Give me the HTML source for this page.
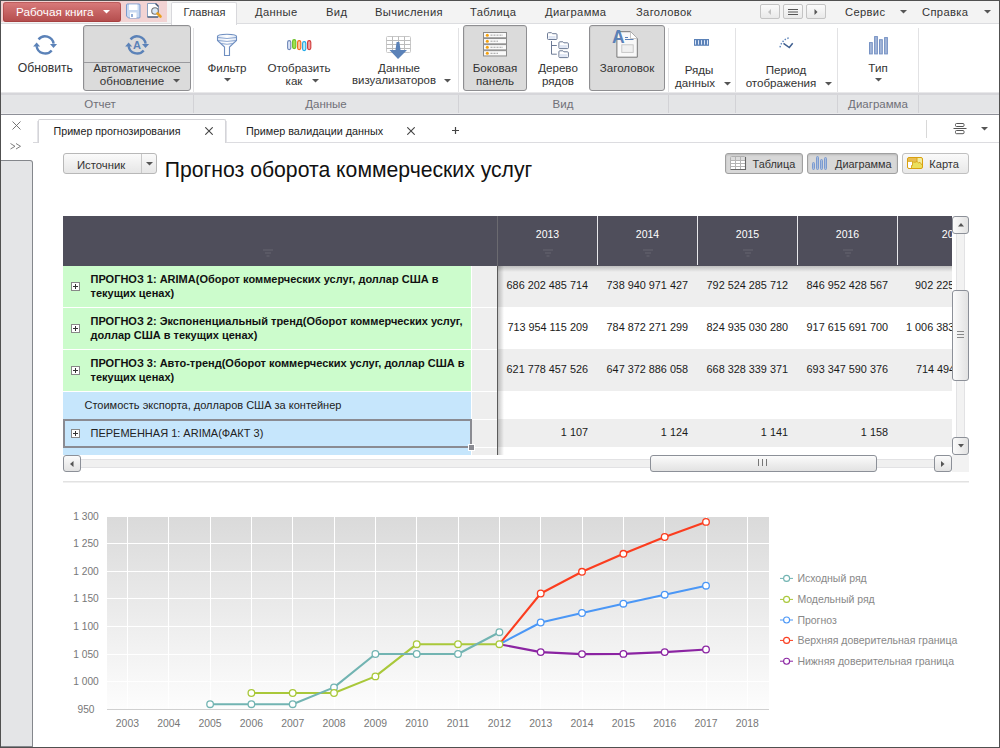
<!DOCTYPE html>
<html><head><meta charset="utf-8"><style>
*{margin:0;padding:0}
html,body{width:1000px;height:748px;overflow:hidden;background:#fff;font-family:"Liberation Sans", sans-serif;}
body{position:relative}
.t{position:absolute;white-space:nowrap;line-height:1;}
svg text{font-family:"Liberation Sans", sans-serif;}
</style></head><body>
<div style="position:absolute;left:1px;top:1px;width:998px;height:22px;background:#f3f3f3;"></div>
<div style="position:absolute;left:1px;top:23px;width:998px;height:1px;background:#dcdde0;"></div>
<div style="position:absolute;left:1px;top:1px;width:166px;height:21px;background:#f2d3d3;"></div>
<div style="position:absolute;left:3px;top:2px;width:118px;height:20px;background:linear-gradient(#d97b7b,#b34c4c);border-radius:3px;box-shadow:inset 0 0 0 1px rgba(140,40,40,.35);"></div>
<div class="t" style="top:6.10px;font-size:11.7px;color:#fff;left:16px;">Рабочая книга</div>
<svg style="position:absolute;left:102.5px;top:10px" width="7" height="4"><path d="M0 0H7L3.5 3.5Z" fill="#fff"/></svg>
<svg style="position:absolute;left:125px;top:3px" width="17" height="16" viewBox="0 0 17 16">
<path d="M1.5 2Q1.5 1 2.5 1H14Q15 1 15 2V14Q15 15 14 15H3.5L1.5 13Z" fill="#c9d9f1" stroke="#7b9bcf" stroke-width="1"/>
<rect x="4" y="1.5" width="8.5" height="5.5" fill="#fff"/>
<rect x="5" y="9.5" width="6.5" height="5.5" fill="#fff"/>
<rect x="6.2" y="11" width="1.6" height="3" fill="#7b9bcf"/></svg><svg style="position:absolute;left:146px;top:2px" width="17" height="18" viewBox="0 0 17 18">
<path d="M1.5 1.5H9.5L12.5 4.5V15H1.5Z" fill="#fff" stroke="#8aa0c0" stroke-width="1"/>
<path d="M1.5 15H12" stroke="#3a5070" stroke-width="1.2"/>
<path d="M9.5 1.5L12.5 4.5" stroke="#3a5070" stroke-width="1.4"/>
<circle cx="9" cy="9" r="3.3" fill="#d9e8f8" stroke="#777" stroke-width="1.1"/>
<path d="M11.5 11.5L14.5 14.5" stroke="#e8a020" stroke-width="2.6" stroke-linecap="round"/></svg><div style="position:absolute;left:171px;top:2px;width:66px;height:22px;background:#fff;border:1px solid #d8d8dc;border-bottom:none;border-radius:2px 2px 0 0;box-sizing:border-box;height:23px;"></div>
<div class="t" style="top:6.69px;font-size:11px;color:#333;left:183.5px;">Главная</div>
<div class="t" style="top:6.92px;font-size:11.2px;color:#333;left:255px;letter-spacing:0.35px;">Данные</div>
<div class="t" style="top:6.92px;font-size:11.2px;color:#333;left:326px;letter-spacing:0.35px;">Вид</div>
<div class="t" style="top:6.92px;font-size:11.2px;color:#333;left:375px;letter-spacing:0.35px;">Вычисления</div>
<div class="t" style="top:6.92px;font-size:11.2px;color:#333;left:470px;letter-spacing:0.35px;">Таблица</div>
<div class="t" style="top:6.92px;font-size:11.2px;color:#333;left:545px;letter-spacing:0.35px;">Диаграмма</div>
<div class="t" style="top:6.92px;font-size:11.2px;color:#333;left:636px;letter-spacing:0.35px;">Заголовок</div>
<div class="t" style="top:6.92px;font-size:11.2px;color:#333;left:845px;letter-spacing:0.35px;">Сервис</div>
<div class="t" style="top:6.92px;font-size:11.2px;color:#333;left:922px;letter-spacing:0.35px;">Справка</div>
<div style="position:absolute;left:760px;top:4px;width:20px;height:15px;box-sizing:border-box;border:1px solid #c4c4c4;border-radius:2px;background:linear-gradient(#fbfbfb,#e9e9e9);"></div>
<div style="position:absolute;left:783px;top:4px;width:20px;height:15px;box-sizing:border-box;border:1px solid #c4c4c4;border-radius:2px;background:linear-gradient(#fbfbfb,#e9e9e9);"></div>
<div style="position:absolute;left:806px;top:4px;width:20px;height:15px;box-sizing:border-box;border:1px solid #c4c4c4;border-radius:2px;background:linear-gradient(#fbfbfb,#e9e9e9);"></div>
<svg style="position:absolute;left:766px;top:8px" width="8" height="8"><path d="M5 1V7L2 4Z" fill="#c0c0c0"/></svg>
<svg style="position:absolute;left:788px;top:8px" width="10" height="8"><path d="M0 1.5H10M0 4H10M0 6.5H10" stroke="#555" stroke-width="1"/></svg>
<svg style="position:absolute;left:812px;top:8px" width="8" height="8"><path d="M2.5 1V7L5.5 4Z" fill="#555"/></svg>
<svg style="position:absolute;left:899.5px;top:10px" width="7" height="4"><path d="M0 0H7L3.5 3.5Z" fill="#555"/></svg>
<svg style="position:absolute;left:983.5px;top:10px" width="7" height="4"><path d="M0 0H7L3.5 3.5Z" fill="#555"/></svg>
<div style="position:absolute;left:1px;top:92px;width:998px;height:22px;background:linear-gradient(#e8e8ea 0,#e8e8ea 1px,#d6d6da 1px,#d6d6da 3px,#e4e5e7 3px,#e4e5e7 21px,#ececee 21px);"></div>
<div style="position:absolute;left:1px;top:114px;width:998px;height:1px;background:#8e9098;"></div>
<div style="position:absolute;left:193px;top:28px;width:1px;height:64px;background:#e2e2e4;"></div>
<div style="position:absolute;left:193px;top:95px;width:1px;height:18px;background:#d2d2d6;"></div>
<div style="position:absolute;left:458px;top:28px;width:1px;height:64px;background:#e2e2e4;"></div>
<div style="position:absolute;left:458px;top:95px;width:1px;height:18px;background:#d2d2d6;"></div>
<div style="position:absolute;left:668px;top:28px;width:1px;height:64px;background:#e2e2e4;"></div>
<div style="position:absolute;left:668px;top:95px;width:1px;height:18px;background:#d2d2d6;"></div>
<div style="position:absolute;left:735px;top:28px;width:1px;height:64px;background:#e2e2e4;"></div>
<div style="position:absolute;left:735px;top:95px;width:1px;height:18px;background:#d2d2d6;"></div>
<div style="position:absolute;left:837px;top:28px;width:1px;height:64px;background:#e2e2e4;"></div>
<div style="position:absolute;left:837px;top:95px;width:1px;height:18px;background:#d2d2d6;"></div>
<div style="position:absolute;left:918px;top:28px;width:1px;height:64px;background:#e2e2e4;"></div>
<div style="position:absolute;left:918px;top:95px;width:1px;height:18px;background:#d2d2d6;"></div>
<div style="position:absolute;left:83px;top:25px;width:108px;height:66px;box-sizing:border-box;border:1px solid #8f8f92;border-radius:3px;background:#dbdbdb;box-shadow:inset 1px 1px 0 #d0d0d0;"></div>
<div style="position:absolute;left:463px;top:25px;width:64px;height:66px;box-sizing:border-box;border:1px solid #8f8f92;border-radius:3px;background:#dbdbdb;box-shadow:inset 1px 1px 0 #d0d0d0;"></div>
<div style="position:absolute;left:589px;top:25px;width:76px;height:66px;box-sizing:border-box;border:1px solid #8f8f92;border-radius:3px;background:#dbdbdb;box-shadow:inset 1px 1px 0 #d0d0d0;"></div>
<div style="position:absolute;left:84px;top:62px;width:106px;height:1px;background:#9a9a9e;"></div>
<div class="t" style="top:99.27px;font-size:11.5px;color:#707078;left:-100px;width:400px;text-align:center;">Отчет</div>
<div class="t" style="top:99.27px;font-size:11.5px;color:#707078;left:126px;width:400px;text-align:center;">Данные</div>
<div class="t" style="top:99.27px;font-size:11.5px;color:#707078;left:363px;width:400px;text-align:center;">Вид</div>
<div class="t" style="top:99.27px;font-size:11.5px;color:#707078;left:678px;width:400px;text-align:center;">Диаграмма</div>
<div class="t" style="top:62.47px;font-size:12.2px;color:#333;left:-154.7px;width:400px;text-align:center;">Обновить</div>
<div class="t" style="top:62.18px;font-size:11.6px;color:#333;left:-63px;width:400px;text-align:center;">Автоматическое</div>
<div class="t" style="top:75.18px;font-size:11.6px;color:#333;left:-68px;width:400px;text-align:center;">обновление</div>
<div class="t" style="top:62.18px;font-size:11.6px;color:#333;left:27px;width:400px;text-align:center;">Фильтр</div>
<div class="t" style="top:62.18px;font-size:11.6px;color:#333;left:99px;width:400px;text-align:center;">Отобразить</div>
<div class="t" style="top:75.18px;font-size:11.6px;color:#333;left:94px;width:400px;text-align:center;">как</div>
<div class="t" style="top:62.18px;font-size:11.6px;color:#333;left:199px;width:400px;text-align:center;">Данные</div>
<div class="t" style="top:75.35px;font-size:11.4px;color:#333;left:194px;width:400px;text-align:center;">визуализаторов</div>
<div class="t" style="top:62.18px;font-size:11.6px;color:#333;left:295px;width:400px;text-align:center;">Боковая</div>
<div class="t" style="top:75.18px;font-size:11.6px;color:#333;left:295px;width:400px;text-align:center;">панель</div>
<div class="t" style="top:62.18px;font-size:11.6px;color:#333;left:358px;width:400px;text-align:center;">Дерево</div>
<div class="t" style="top:75.18px;font-size:11.6px;color:#333;left:358px;width:400px;text-align:center;">рядов</div>
<div class="t" style="top:62.18px;font-size:11.6px;color:#333;left:427px;width:400px;text-align:center;">Заголовок</div>
<div class="t" style="top:63.98px;font-size:11.6px;color:#333;left:499px;width:400px;text-align:center;">Ряды</div>
<div class="t" style="top:76.58px;font-size:11.6px;color:#333;left:495px;width:400px;text-align:center;">данных</div>
<div class="t" style="top:63.98px;font-size:11.6px;color:#333;left:586px;width:400px;text-align:center;">Период</div>
<div class="t" style="top:76.58px;font-size:11.6px;color:#333;left:581px;width:400px;text-align:center;">отображения</div>
<div class="t" style="top:62.18px;font-size:11.6px;color:#333;left:678px;width:400px;text-align:center;">Тип</div>
<svg style="position:absolute;left:173px;top:79px" width="7" height="4"><path d="M0 0H7L3.5 3.5Z" fill="#555"/></svg>
<svg style="position:absolute;left:224px;top:78px" width="7" height="4"><path d="M0 0H7L3.5 3.5Z" fill="#555"/></svg>
<svg style="position:absolute;left:312px;top:79px" width="7" height="4"><path d="M0 0H7L3.5 3.5Z" fill="#555"/></svg>
<svg style="position:absolute;left:444px;top:79px" width="7" height="4"><path d="M0 0H7L3.5 3.5Z" fill="#555"/></svg>
<svg style="position:absolute;left:724px;top:82px" width="7" height="4"><path d="M0 0H7L3.5 3.5Z" fill="#555"/></svg>
<svg style="position:absolute;left:825px;top:82px" width="7" height="4"><path d="M0 0H7L3.5 3.5Z" fill="#555"/></svg>
<svg style="position:absolute;left:875px;top:78px" width="7" height="4"><path d="M0 0H7L3.5 3.5Z" fill="#555"/></svg>
<div style="position:absolute;left:38px;top:119px;width:188px;height:24px;box-sizing:border-box;border:1px solid #d4d4d8;border-bottom:none;border-radius:2px 2px 0 0;background:#fff;"></div>
<div style="position:absolute;left:37px;top:121px;width:1px;height:21px;background:#e4e4e8;"></div>
<div style="position:absolute;left:226px;top:121px;width:1px;height:21px;background:#e4e4e8;"></div>
<div style="position:absolute;left:33px;top:142px;width:5px;height:1px;background:#d8d8dc;"></div>
<div style="position:absolute;left:226px;top:142px;width:773px;height:1px;background:#dcdce0;"></div>
<div class="t" style="top:125.94px;font-size:10.7px;color:#222;left:53.5px;">Пример прогнозирования</div>
<div class="t" style="top:125.86px;font-size:10.8px;color:#222;left:246px;">Пример валидации данных</div>
<svg style="position:absolute;left:205.2px;top:127px" width="8" height="8"><path d="M0.3 0.3L7.7 7.7M7.7 0.3L0.3 7.7" stroke="#444" stroke-width="1.1"/></svg>
<svg style="position:absolute;left:407.1px;top:127.2px" width="8" height="8"><path d="M0.3 0.3L7.7 7.7M7.7 0.3L0.3 7.7" stroke="#444" stroke-width="1.1"/></svg>
<svg style="position:absolute;left:451.9px;top:126.9px" width="7" height="7"><path d="M3.5 0V7M0 3.5H7" stroke="#444" stroke-width="1.2"/></svg>
<svg style="position:absolute;left:11.5px;top:121px" width="9" height="9"><path d="M0.5 0.5L8.5 8.5M8.5 0.5L0.5 8.5" stroke="#666" stroke-width="0.9"/></svg>
<svg style="position:absolute;left:10px;top:143px" width="12" height="7"><path d="M0.5 0.5L5 3.3L0.5 6M6 0.5L10.5 3.3L6 6" fill="none" stroke="#707070" stroke-width="0.9"/></svg><div style="position:absolute;left:926px;top:120px;width:1px;height:18px;background:#d8d8d8;"></div>
<svg style="position:absolute;left:953px;top:122px" width="14" height="13"><rect x="2.5" y="1.5" width="8.5" height="3" rx="1" fill="none" stroke="#555"/><path d="M0.5 6.5H13.5" stroke="#555"/><rect x="2.5" y="8.5" width="8.5" height="3.2" rx="1" fill="none" stroke="#555"/></svg>
<svg style="position:absolute;left:981px;top:127px" width="7" height="4"><path d="M0 0H7L3.5 3.5Z" fill="#555"/></svg>
<div style="position:absolute;left:1px;top:160px;width:32px;height:587px;box-sizing:border-box;background:#e4e5e7;border:1px solid #84878c;border-left:none;border-radius:0 3px 0 0;"></div>
<div style="position:absolute;left:63px;top:153px;width:94px;height:21px;box-sizing:border-box;border:1px solid #b8b8b8;border-radius:3px;background:linear-gradient(#fafafa,#e6e6e6);"></div>
<div style="position:absolute;left:141px;top:154px;width:1px;height:19px;background:#c8c8c8;"></div>
<div class="t" style="top:159.63px;font-size:11.3px;color:#333;left:77px;">Источник</div>
<svg style="position:absolute;left:146px;top:162px" width="7" height="4"><path d="M0 0H7L3.5 3.5Z" fill="#555"/></svg>
<div class="t" style="top:158.55px;font-size:21.2px;color:#111;left:164.8px;">Прогноз оборота коммерческих услуг</div>
<div style="position:absolute;left:725px;top:153px;width:78px;height:21px;box-sizing:border-box;border:1px solid #a0a0a0;border-radius:3px;background:#d8d8d8;box-shadow:inset 0 1px 2px rgba(0,0,0,.15);"></div>
<div style="position:absolute;left:807px;top:153px;width:91px;height:21px;box-sizing:border-box;border:1px solid #a0a0a0;border-radius:3px;background:#d8d8d8;box-shadow:inset 0 1px 2px rgba(0,0,0,.15);"></div>
<div style="position:absolute;left:902px;top:153px;width:67px;height:21px;box-sizing:border-box;border:1px solid #c0c0c0;border-radius:3px;background:linear-gradient(#fafafa,#e8e8e8);"></div>
<div class="t" style="top:159.27px;font-size:10.9px;color:#333;left:752.5px;">Таблица</div>
<div class="t" style="top:159.27px;font-size:10.9px;color:#333;left:835px;">Диаграмма</div>
<div class="t" style="top:159.10px;font-size:11.1px;color:#333;left:929.3px;">Карта</div>
<svg style="position:absolute;left:730px;top:156px" width="17" height="15"><rect x="0.5" y="0.5" width="15" height="13" rx="1" fill="#fff" stroke="#b0b0b0"/><rect x="1" y="1" width="14" height="3.5" fill="#dcdcdc"/><path d="M5.5 0.5V13.5M10.5 0.5V13.5M0.5 4.5H15.5M0.5 7.5H15.5M0.5 10.5H15.5" stroke="#b4b4b4"/><path d="M15.5 1V13.5H0.5" fill="none" stroke="#666" stroke-width="1.1"/></svg>
<svg style="position:absolute;left:812px;top:156px" width="16" height="15"><g fill="#a8bddd" stroke="#7b9ad0" stroke-width="1"><rect x="0.5" y="6.5" width="2" height="7" rx="1"/><rect x="4.5" y="0.5" width="2" height="13" rx="1"/><rect x="8.5" y="3.5" width="2" height="10" rx="1"/><rect x="12.5" y="1.5" width="2" height="12" rx="1"/></g></svg>
<svg style="position:absolute;left:907px;top:157px" width="16" height="12"><rect x="0.5" y="0.5" width="15" height="11" rx="1.5" fill="#ebe05c"/><path d="M1 1H10V4.5L8 5L6.5 4.5L4.5 4H1Z" fill="#e9bd52"/><path d="M10 1H15V8L13 5.3L11.5 5.8L10 4.5Z" fill="#f3ed9c"/><path d="M1 4.5H4.5L5.5 5V8.5H4.5V11H1Z" fill="#fff"/><path d="M1 4.3H4.5L6.5 5L8 5.3L10 4.5V1M10 4.5L11.5 5.8L13 5.3L15 8M5.5 5V8.5H4.5V11" fill="none" stroke="#d6a21a" stroke-width="0.9"/><rect x="0.5" y="0.5" width="15" height="11" rx="1.5" fill="none" stroke="#d9a00e"/></svg>
<div style="position:absolute;left:63px;top:216px;width:889px;height:50px;background:#4f4e5b;"></div>
<div style="position:absolute;left:497px;top:216px;width:1px;height:50px;background:#6b6a70;"></div>
<div style="position:absolute;left:597px;top:216px;width:1px;height:49px;background:#e8e8ec;"></div>
<div style="position:absolute;left:697px;top:216px;width:1px;height:49px;background:#e8e8ec;"></div>
<div style="position:absolute;left:797px;top:216px;width:1px;height:49px;background:#e8e8ec;"></div>
<div style="position:absolute;left:897px;top:216px;width:1px;height:49px;background:#e8e8ec;"></div>
<div style="position:absolute;left:0;top:0;width:952px;height:300px;overflow:hidden"><div class="t" style="top:228.91px;font-size:10.5px;color:#fff;left:347.5px;width:400px;text-align:center;">2013</div>
</div><svg style="position:absolute;left:543px;top:249px" width="10" height="8"><path d="M0 1H10M2 4H8M3.5 7H6.5" stroke="#5f5e6a" stroke-width="1.4"/></svg>
<div style="position:absolute;left:0;top:0;width:952px;height:300px;overflow:hidden"><div class="t" style="top:228.91px;font-size:10.5px;color:#fff;left:447.5px;width:400px;text-align:center;">2014</div>
</div><svg style="position:absolute;left:643px;top:249px" width="10" height="8"><path d="M0 1H10M2 4H8M3.5 7H6.5" stroke="#5f5e6a" stroke-width="1.4"/></svg>
<div style="position:absolute;left:0;top:0;width:952px;height:300px;overflow:hidden"><div class="t" style="top:228.91px;font-size:10.5px;color:#fff;left:547.5px;width:400px;text-align:center;">2015</div>
</div><svg style="position:absolute;left:743px;top:249px" width="10" height="8"><path d="M0 1H10M2 4H8M3.5 7H6.5" stroke="#5f5e6a" stroke-width="1.4"/></svg>
<div style="position:absolute;left:0;top:0;width:952px;height:300px;overflow:hidden"><div class="t" style="top:228.91px;font-size:10.5px;color:#fff;left:647.5px;width:400px;text-align:center;">2016</div>
</div><svg style="position:absolute;left:843px;top:249px" width="10" height="8"><path d="M0 1H10M2 4H8M3.5 7H6.5" stroke="#5f5e6a" stroke-width="1.4"/></svg>
<div style="position:absolute;left:0;top:0;width:952px;height:300px;overflow:hidden"><div class="t" style="top:228.91px;font-size:10.5px;color:#fff;left:753.5px;width:400px;text-align:center;">2017</div>
</div><svg style="position:absolute;left:263px;top:249px" width="10" height="8"><path d="M0 1H10M2 4H8M3.5 7H6.5" stroke="#5f5e6a" stroke-width="1.4"/></svg>
<div style="position:absolute;left:0;top:0;width:952px;height:455px;overflow:hidden">
<div style="position:absolute;left:63px;top:266px;width:408px;height:41px;background:#ccfccc;"></div>
<div style="position:absolute;left:472px;top:266px;width:25px;height:41px;background:#eeeeee;"></div>
<div style="position:absolute;left:498px;top:266px;width:454px;height:41px;background:#eeeeee;"></div>
<svg style="position:absolute;left:71px;top:282.0px" width="9" height="9"><rect x="0.5" y="0.5" width="8" height="8" fill="#fff" stroke="#888"/><path d="M2 4.5H7M4.5 2V7" stroke="#333"/></svg>
<div class="t" style="top:273.79px;font-size:11px;color:#111;font-weight:700;left:90.5px;">ПРОГНОЗ 1: ARIMA(Оборот коммерческих услуг, доллар США в</div>
<div class="t" style="top:287.79px;font-size:11px;color:#111;font-weight:700;left:90.5px;">текущих ценах)</div>
<div class="t" style="top:280.22px;font-size:10.85px;color:#1a1a1a;left:288px;width:300px;text-align:right;">686 202 485 714</div>
<div class="t" style="top:280.22px;font-size:10.85px;color:#1a1a1a;left:388px;width:300px;text-align:right;">738 940 971 427</div>
<div class="t" style="top:280.22px;font-size:10.85px;color:#1a1a1a;left:488px;width:300px;text-align:right;">792 524 285 712</div>
<div class="t" style="top:280.22px;font-size:10.85px;color:#1a1a1a;left:588px;width:300px;text-align:right;">846 952 428 567</div>
<div class="t" style="top:280.22px;font-size:10.85px;color:#1a1a1a;left:696.5px;width:300px;text-align:right;">902 225 714 281</div>
<div style="position:absolute;left:63px;top:308px;width:408px;height:41px;background:#ccfccc;"></div>
<div style="position:absolute;left:472px;top:308px;width:25px;height:41px;background:#eeeeee;"></div>
<div style="position:absolute;left:498px;top:307px;width:454px;height:42px;background:#ffffff;"></div>
<svg style="position:absolute;left:71px;top:324.0px" width="9" height="9"><rect x="0.5" y="0.5" width="8" height="8" fill="#fff" stroke="#888"/><path d="M2 4.5H7M4.5 2V7" stroke="#333"/></svg>
<div class="t" style="top:315.79px;font-size:11px;color:#111;font-weight:700;left:90.5px;">ПРОГНОЗ 2: Экспоненциальный тренд(Оборот коммерческих услуг,</div>
<div class="t" style="top:329.79px;font-size:11px;color:#111;font-weight:700;left:90.5px;">доллар США в текущих ценах)</div>
<div class="t" style="top:322.22px;font-size:10.85px;color:#1a1a1a;left:288px;width:300px;text-align:right;">713 954 115 209</div>
<div class="t" style="top:322.22px;font-size:10.85px;color:#1a1a1a;left:388px;width:300px;text-align:right;">784 872 271 299</div>
<div class="t" style="top:322.22px;font-size:10.85px;color:#1a1a1a;left:488px;width:300px;text-align:right;">824 935 030 280</div>
<div class="t" style="top:322.22px;font-size:10.85px;color:#1a1a1a;left:588px;width:300px;text-align:right;">917 615 691 700</div>
<div class="t" style="top:322.22px;font-size:10.85px;color:#1a1a1a;left:696.5px;width:300px;text-align:right;">1 006 383 442 300</div>
<div style="position:absolute;left:63px;top:350px;width:408px;height:41px;background:#ccfccc;"></div>
<div style="position:absolute;left:472px;top:350px;width:25px;height:41px;background:#eeeeee;"></div>
<div style="position:absolute;left:498px;top:349px;width:454px;height:42px;background:#eeeeee;"></div>
<svg style="position:absolute;left:71px;top:366.0px" width="9" height="9"><rect x="0.5" y="0.5" width="8" height="8" fill="#fff" stroke="#888"/><path d="M2 4.5H7M4.5 2V7" stroke="#333"/></svg>
<div class="t" style="top:357.79px;font-size:11px;color:#111;font-weight:700;left:90.5px;">ПРОГНОЗ 3: Авто-тренд(Оборот коммерческих услуг, доллар США в</div>
<div class="t" style="top:371.79px;font-size:11px;color:#111;font-weight:700;left:90.5px;">текущих ценах)</div>
<div class="t" style="top:364.22px;font-size:10.85px;color:#1a1a1a;left:288px;width:300px;text-align:right;">621 778 457 526</div>
<div class="t" style="top:364.22px;font-size:10.85px;color:#1a1a1a;left:388px;width:300px;text-align:right;">647 372 886 058</div>
<div class="t" style="top:364.22px;font-size:10.85px;color:#1a1a1a;left:488px;width:300px;text-align:right;">668 328 339 371</div>
<div class="t" style="top:364.22px;font-size:10.85px;color:#1a1a1a;left:588px;width:300px;text-align:right;">693 347 590 376</div>
<div class="t" style="top:364.22px;font-size:10.85px;color:#1a1a1a;left:696.5px;width:300px;text-align:right;">714 494 118 003</div>
<div style="position:absolute;left:63px;top:392px;width:408px;height:27px;background:#c6e6fc;"></div>
<div style="position:absolute;left:472px;top:392px;width:25px;height:27px;background:#eeeeee;"></div>
<div style="position:absolute;left:498px;top:391px;width:454px;height:28px;background:#ffffff;"></div>
<div class="t" style="top:399.69px;font-size:11px;color:#222;left:84.5px;">Стоимость экспорта, долларов США за контейнер</div>
<div style="position:absolute;left:63px;top:420px;width:408px;height:27px;background:#c6e6fc;"></div>
<div style="position:absolute;left:472px;top:420px;width:25px;height:27px;background:#eeeeee;"></div>
<div style="position:absolute;left:498px;top:419px;width:454px;height:28px;background:#eeeeee;"></div>
<svg style="position:absolute;left:71px;top:429.0px" width="9" height="9"><rect x="0.5" y="0.5" width="8" height="8" fill="#fff" stroke="#888"/><path d="M2 4.5H7M4.5 2V7" stroke="#333"/></svg>
<div class="t" style="top:427.69px;font-size:11px;color:#222;left:90.5px;">ПЕРЕМЕННАЯ 1: ARIMA(ФАКТ 3)</div>
<div class="t" style="top:427.22px;font-size:10.85px;color:#1a1a1a;left:288px;width:300px;text-align:right;">1 107</div>
<div class="t" style="top:427.22px;font-size:10.85px;color:#1a1a1a;left:388px;width:300px;text-align:right;">1 124</div>
<div class="t" style="top:427.22px;font-size:10.85px;color:#1a1a1a;left:488px;width:300px;text-align:right;">1 141</div>
<div class="t" style="top:427.22px;font-size:10.85px;color:#1a1a1a;left:588px;width:300px;text-align:right;">1 158</div>
<div style="position:absolute;left:63px;top:448px;width:408px;height:7px;background:#c6e6fc;"></div>
<div style="position:absolute;left:472px;top:448px;width:25px;height:7px;background:#eeeeee;"></div>
<div style="position:absolute;left:498px;top:447px;width:454px;height:8px;background:#ffffff;"></div>
</div>
<div style="position:absolute;left:63px;top:419px;width:409px;height:29px;box-sizing:border-box;border:2px solid #8a8b92;"></div>
<div style="position:absolute;left:469px;top:445px;width:5px;height:5px;background:#8a8b92;box-shadow:0 0 0 1px #fff;"></div>
<div style="position:absolute;left:498px;top:266px;width:454px;height:6px;background:linear-gradient(rgba(0,0,0,.2),rgba(0,0,0,0));"></div>
<div style="position:absolute;left:497px;top:266px;width:1px;height:189px;background:#5a5a5a;"></div>
<div style="position:absolute;left:498px;top:266px;width:6px;height:189px;background:linear-gradient(90deg,rgba(0,0,0,.22),rgba(0,0,0,0));"></div>
<div style="position:absolute;left:956px;top:233px;width:9px;height:204px;background:#f2f2f2;border-left:1px solid #e2e2e4;border-right:1px solid #e2e2e4;box-sizing:border-box;"></div>
<div style="position:absolute;left:952px;top:216px;width:17px;height:18px;box-sizing:border-box;border:1px solid #8c9098;border-radius:3px;background:linear-gradient(90deg,#fbfbfb,#e2e2e2);"></div>
<svg style="position:absolute;left:957.5px;top:222.5px" width="6" height="4"><path d="M0 3.5H6L3 0Z" fill="#555"/></svg>
<div style="position:absolute;left:952px;top:290px;width:17px;height:91px;box-sizing:border-box;border:1px solid #8c9098;border-radius:3px;background:linear-gradient(90deg,#fbfbfb,#e2e2e2);"></div>
<svg style="position:absolute;left:957px;top:331px" width="7" height="8"><path d="M0 .5H7M0 3.5H7M0 6.5H7" stroke="#888"/></svg>
<div style="position:absolute;left:952px;top:437px;width:17px;height:18px;box-sizing:border-box;border:1px solid #8c9098;border-radius:3px;background:linear-gradient(90deg,#fbfbfb,#e2e2e2);"></div>
<svg style="position:absolute;left:957.5px;top:443.7px" width="6" height="4"><path d="M0 0H6L3 3.5Z" fill="#555"/></svg>
<div style="position:absolute;left:80px;top:459px;width:855px;height:9px;background:#f0f0f0;border-top:1px solid #e2e2e4;border-bottom:1px solid #e2e2e4;box-sizing:border-box;"></div>
<div style="position:absolute;left:952px;top:455px;width:17px;height:17px;background:#f2f2f2;"></div>
<div style="position:absolute;left:63px;top:455px;width:18px;height:17px;box-sizing:border-box;border:1px solid #8c9098;border-radius:3px;background:linear-gradient(180deg,#fbfbfb,#e2e2e2);"></div>
<svg style="position:absolute;left:69.8px;top:460.8px" width="4" height="6"><path d="M3.5 0V6L0 3Z" fill="#555"/></svg>
<div style="position:absolute;left:650px;top:455px;width:227px;height:17px;box-sizing:border-box;border:1px solid #8c9098;border-radius:3px;background:linear-gradient(180deg,#fbfbfb,#e2e2e2);"></div>
<svg style="position:absolute;left:758px;top:459px" width="10" height="7"><path d="M.5 0V7M4.5 0V7M8.5 0V7" stroke="#777"/></svg>
<div style="position:absolute;left:934px;top:455px;width:18px;height:17px;box-sizing:border-box;border:1px solid #8c9098;border-radius:3px;background:linear-gradient(180deg,#fbfbfb,#e2e2e2);"></div>
<svg style="position:absolute;left:940.8px;top:460.8px" width="4" height="6"><path d="M0 0V6L3.5 3Z" fill="#555"/></svg>
<div style="position:absolute;left:63px;top:481px;width:906px;height:1px;background:#e2e2e2;"></div>
<div style="position:absolute;left:63px;top:482px;width:906px;height:1px;background:#f0f0f0;"></div>
<svg style="position:absolute;left:0;top:0" width="1000" height="748" viewBox="0 0 1000 748"><defs><linearGradient id="pg" x1="0" y1="0" x2="0" y2="1"><stop offset="0" stop-color="#dadada"/><stop offset="1" stop-color="#fdfdfd"/></linearGradient></defs><rect x="107" y="517" width="662" height="192" fill="url(#pg)"/><path d="M107 681.5H769" stroke="#fff" stroke-width="1"/><path d="M107 654.5H769" stroke="#fff" stroke-width="1"/><path d="M107 626.5H769" stroke="#fff" stroke-width="1"/><path d="M107 598.5H769" stroke="#fff" stroke-width="1"/><path d="M107 571.5H769" stroke="#fff" stroke-width="1"/><path d="M107 543.5H769" stroke="#fff" stroke-width="1"/><path d="M127.5 517V709" stroke="#fff" stroke-width="1"/><path d="M168.5 517V709" stroke="#fff" stroke-width="1"/><path d="M210.5 517V709" stroke="#fff" stroke-width="1"/><path d="M251.5 517V709" stroke="#fff" stroke-width="1"/><path d="M292.5 517V709" stroke="#fff" stroke-width="1"/><path d="M334.5 517V709" stroke="#fff" stroke-width="1"/><path d="M375.5 517V709" stroke="#fff" stroke-width="1"/><path d="M416.5 517V709" stroke="#fff" stroke-width="1"/><path d="M458.5 517V709" stroke="#fff" stroke-width="1"/><path d="M499.5 517V709" stroke="#fff" stroke-width="1"/><path d="M540.5 517V709" stroke="#fff" stroke-width="1"/><path d="M582.5 517V709" stroke="#fff" stroke-width="1"/><path d="M623.5 517V709" stroke="#fff" stroke-width="1"/><path d="M664.5 517V709" stroke="#fff" stroke-width="1"/><path d="M706.5 517V709" stroke="#fff" stroke-width="1"/><path d="M747.5 517V709" stroke="#fff" stroke-width="1"/><path d="M107 709.5H769" stroke="#d0d0d0" stroke-width="1"/><text x="86" y="713.3" text-anchor="middle" font-size="10.2" fill="#777">950</text><text x="86" y="685.3" text-anchor="middle" font-size="10.2" fill="#777">1 000</text><text x="86" y="658.3" text-anchor="middle" font-size="10.2" fill="#777">1 050</text><text x="86" y="630.3" text-anchor="middle" font-size="10.2" fill="#777">1 100</text><text x="86" y="602.3" text-anchor="middle" font-size="10.2" fill="#777">1 150</text><text x="86" y="575.3" text-anchor="middle" font-size="10.2" fill="#777">1 200</text><text x="86" y="547.3" text-anchor="middle" font-size="10.2" fill="#777">1 250</text><text x="86" y="520.3" text-anchor="middle" font-size="10.2" fill="#777">1 300</text><text x="127.4" y="726.8" text-anchor="middle" font-size="10.4" fill="#777">2003</text><text x="168.7" y="726.8" text-anchor="middle" font-size="10.4" fill="#777">2004</text><text x="210.1" y="726.8" text-anchor="middle" font-size="10.4" fill="#777">2005</text><text x="251.4" y="726.8" text-anchor="middle" font-size="10.4" fill="#777">2006</text><text x="292.7" y="726.8" text-anchor="middle" font-size="10.4" fill="#777">2007</text><text x="334.0" y="726.8" text-anchor="middle" font-size="10.4" fill="#777">2008</text><text x="375.4" y="726.8" text-anchor="middle" font-size="10.4" fill="#777">2009</text><text x="416.7" y="726.8" text-anchor="middle" font-size="10.4" fill="#777">2010</text><text x="458.0" y="726.8" text-anchor="middle" font-size="10.4" fill="#777">2011</text><text x="499.4" y="726.8" text-anchor="middle" font-size="10.4" fill="#777">2012</text><text x="540.7" y="726.8" text-anchor="middle" font-size="10.4" fill="#777">2013</text><text x="582.0" y="726.8" text-anchor="middle" font-size="10.4" fill="#777">2014</text><text x="623.4" y="726.8" text-anchor="middle" font-size="10.4" fill="#777">2015</text><text x="664.7" y="726.8" text-anchor="middle" font-size="10.4" fill="#777">2016</text><text x="706.0" y="726.8" text-anchor="middle" font-size="10.4" fill="#777">2017</text><text x="747.3" y="726.8" text-anchor="middle" font-size="10.4" fill="#777">2018</text><path d="M499.4 644.2 L540.7 652.1 L582.0 654.1 L623.4 653.9 L664.7 652.1 L706.0 649.5" fill="none" stroke="#8b24a2" stroke-width="2.1" stroke-linejoin="round"/><path d="M499.4 644.2 L540.7 593.5 L582.0 571.8 L623.4 553.8 L664.7 537.0 L706.0 521.9" fill="none" stroke="#fb3d1f" stroke-width="2.1" stroke-linejoin="round"/><path d="M499.4 644.2 L540.7 622.5 L582.0 613.0 L623.4 603.7 L664.7 594.7 L706.0 585.7" fill="none" stroke="#4b97f6" stroke-width="2.1" stroke-linejoin="round"/><path d="M251.4 693.0 L292.7 693.0 L334.0 693.0 L375.4 676.4 L416.7 644.2 L458.0 644.2 L499.4 644.2" fill="none" stroke="#a9c83a" stroke-width="2.1" stroke-linejoin="round"/><path d="M210.1 704.2 L251.4 704.2 L292.7 704.2 L334.0 687.4 L375.4 654.0 L416.7 654.0 L458.0 654.0 L499.4 632.2" fill="none" stroke="#72b4b2" stroke-width="2.1" stroke-linejoin="round"/><circle cx="540.7" cy="652.1" r="3.3" fill="#fff" stroke="#8b24a2" stroke-width="1.3"/><circle cx="582.0" cy="654.1" r="3.3" fill="#fff" stroke="#8b24a2" stroke-width="1.3"/><circle cx="623.4" cy="653.9" r="3.3" fill="#fff" stroke="#8b24a2" stroke-width="1.3"/><circle cx="664.7" cy="652.1" r="3.3" fill="#fff" stroke="#8b24a2" stroke-width="1.3"/><circle cx="706.0" cy="649.5" r="3.3" fill="#fff" stroke="#8b24a2" stroke-width="1.3"/><circle cx="540.7" cy="593.5" r="3.3" fill="#fff" stroke="#fb3d1f" stroke-width="1.3"/><circle cx="582.0" cy="571.8" r="3.3" fill="#fff" stroke="#fb3d1f" stroke-width="1.3"/><circle cx="623.4" cy="553.8" r="3.3" fill="#fff" stroke="#fb3d1f" stroke-width="1.3"/><circle cx="664.7" cy="537.0" r="3.3" fill="#fff" stroke="#fb3d1f" stroke-width="1.3"/><circle cx="706.0" cy="521.9" r="3.3" fill="#fff" stroke="#fb3d1f" stroke-width="1.3"/><circle cx="540.7" cy="622.5" r="3.3" fill="#fff" stroke="#4b97f6" stroke-width="1.3"/><circle cx="582.0" cy="613.0" r="3.3" fill="#fff" stroke="#4b97f6" stroke-width="1.3"/><circle cx="623.4" cy="603.7" r="3.3" fill="#fff" stroke="#4b97f6" stroke-width="1.3"/><circle cx="664.7" cy="594.7" r="3.3" fill="#fff" stroke="#4b97f6" stroke-width="1.3"/><circle cx="706.0" cy="585.7" r="3.3" fill="#fff" stroke="#4b97f6" stroke-width="1.3"/><circle cx="210.1" cy="704.2" r="3.3" fill="#fff" stroke="#72b4b2" stroke-width="1.3"/><circle cx="251.4" cy="704.2" r="3.3" fill="#fff" stroke="#72b4b2" stroke-width="1.3"/><circle cx="292.7" cy="704.2" r="3.3" fill="#fff" stroke="#72b4b2" stroke-width="1.3"/><circle cx="334.0" cy="687.4" r="3.3" fill="#fff" stroke="#72b4b2" stroke-width="1.3"/><circle cx="375.4" cy="654.0" r="3.3" fill="#fff" stroke="#72b4b2" stroke-width="1.3"/><circle cx="416.7" cy="654.0" r="3.3" fill="#fff" stroke="#72b4b2" stroke-width="1.3"/><circle cx="458.0" cy="654.0" r="3.3" fill="#fff" stroke="#72b4b2" stroke-width="1.3"/><circle cx="499.4" cy="632.2" r="3.3" fill="#fff" stroke="#72b4b2" stroke-width="1.3"/><circle cx="251.4" cy="693.0" r="3.3" fill="#fff" stroke="#a9c83a" stroke-width="1.3"/><circle cx="292.7" cy="693.0" r="3.3" fill="#fff" stroke="#a9c83a" stroke-width="1.3"/><circle cx="334.0" cy="693.0" r="3.3" fill="#fff" stroke="#a9c83a" stroke-width="1.3"/><circle cx="375.4" cy="676.4" r="3.3" fill="#fff" stroke="#a9c83a" stroke-width="1.3"/><circle cx="416.7" cy="644.2" r="3.3" fill="#fff" stroke="#a9c83a" stroke-width="1.3"/><circle cx="458.0" cy="644.2" r="3.3" fill="#fff" stroke="#a9c83a" stroke-width="1.3"/><circle cx="499.4" cy="644.2" r="3.3" fill="#fff" stroke="#a9c83a" stroke-width="1.3"/><path d="M780 578.4H793" stroke="#72b4b2" stroke-width="1"/><circle cx="786.6" cy="578.4" r="3.0" fill="#fff" stroke="#72b4b2" stroke-width="1.1"/><text x="797.4" y="582.1" font-size="10.5" fill="#888">Исходный ряд</text><path d="M780 599.4H793" stroke="#a9c83a" stroke-width="1"/><circle cx="786.6" cy="599.4" r="3.0" fill="#fff" stroke="#a9c83a" stroke-width="1.1"/><text x="797.4" y="603.1" font-size="10.5" fill="#888">Модельный ряд</text><path d="M780 620H793" stroke="#4b97f6" stroke-width="1"/><circle cx="786.6" cy="620" r="3.0" fill="#fff" stroke="#4b97f6" stroke-width="1.1"/><text x="797.4" y="623.7" font-size="10.5" fill="#888">Прогноз</text><path d="M780 640.4H793" stroke="#fb3d1f" stroke-width="1"/><circle cx="786.6" cy="640.4" r="3.0" fill="#fff" stroke="#fb3d1f" stroke-width="1.1"/><text x="797.4" y="644.1" font-size="10.5" fill="#888">Верхняя доверительная граница</text><path d="M780 661.2H793" stroke="#8b24a2" stroke-width="1"/><circle cx="786.6" cy="661.2" r="3.0" fill="#fff" stroke="#8b24a2" stroke-width="1.1"/><text x="797.4" y="664.9" font-size="10.5" fill="#888">Нижняя доверительная граница</text></svg>
<div style="position:absolute;left:0px;top:0px;width:1000px;height:1px;background:#505050;"></div>
<div style="position:absolute;left:0px;top:0px;width:1px;height:748px;background:#505050;"></div>
<div style="position:absolute;left:999px;top:0px;width:1px;height:748px;background:#505050;"></div>
<div style="position:absolute;left:0px;top:747px;width:1000px;height:1px;background:#505050;"></div>
<svg style="position:absolute;left:0;top:0" width="1000" height="120" viewBox="0 0 1000 120"><path d="M38.51 39.37 A8.6 8.6 0 0 1 53.62 43.70" fill="none" stroke="#5b82b8" stroke-width="2.4"/><path d="M51.69 50.43 A8.6 8.6 0 0 1 36.58 46.10" fill="none" stroke="#5b82b8" stroke-width="2.4"/><path d="M50.00 43.90 H57.10 L53.50 47.90Z" fill="#5b82b8"/><path d="M33.10 46.50 H40.10 L36.60 42.50Z" fill="#5b82b8"/></svg>
<svg style="position:absolute;left:0;top:0" width="1000" height="120" viewBox="0 0 1000 120"><path d="M130.51 39.37 A8.6 8.6 0 0 1 145.62 43.70" fill="none" stroke="#5b82b8" stroke-width="2.4"/><path d="M143.69 50.43 A8.6 8.6 0 0 1 128.58 46.10" fill="none" stroke="#5b82b8" stroke-width="2.4"/><path d="M142.00 43.90 H149.10 L145.50 47.90Z" fill="#5b82b8"/><path d="M125.10 46.50 H132.10 L128.60 42.50Z" fill="#5b82b8"/><text x="137.10" y="48.90" text-anchor="middle" font-size="11" font-weight="700" fill="#5b82b8">A</text></svg>
<svg style="position:absolute;left:216px;top:33px" width="22" height="24" viewBox="0 0 22 24">
<defs><linearGradient id="fg" x1="0" x2="1"><stop offset="0" stop-color="#dfe8f6"/><stop offset=".5" stop-color="#fff"/><stop offset="1" stop-color="#dfe8f6"/></linearGradient></defs>
<path d="M1.5 3.5Q1.5 1.2 11 1.2Q20.5 1.2 20.5 3.5V7.5L13.5 14V22.5H8.5V14L1.5 7.5Z" fill="url(#fg)" stroke="#6e8ec0" stroke-width="1.1"/>
<path d="M2 4.5Q11 6.5 20 4.5M2 7.5Q11 9.3 20 7.5M5 10.5Q11 12 17 10.5" fill="none" stroke="#7f9ccb" stroke-width=".9"/>
</svg>
<svg style="position:absolute;left:0;top:0" width="1000" height="120" viewBox="0 0 1000 120"><rect x="287.6" y="40.6" width="3.2" height="9" rx="1.6" fill="#dce6f8" stroke="#7088b8" stroke-width="1.1"/><rect x="292.6" y="39.6" width="3.2" height="9" rx="1.6" fill="#a4e24c" stroke="#6cbf2a" stroke-width="1.1"/><rect x="297.6" y="40.6" width="3.2" height="9" rx="1.6" fill="#ffcaa8" stroke="#f26a1c" stroke-width="1.1"/><rect x="302.6" y="41.6" width="3.2" height="9" rx="1.6" fill="#c4ecf0" stroke="#1ea8e8" stroke-width="1.1"/><rect x="307.6" y="40.6" width="3.2" height="9" rx="1.6" fill="#f4a4a4" stroke="#d03838" stroke-width="1.1"/></svg>
<svg style="position:absolute;left:386px;top:36px" width="26" height="24" viewBox="0 0 26 24"><rect x="0.5" y="0.5" width="24" height="16" fill="#fff" stroke="#c8c8c8" rx="1"/><path d="M6.5 0.5V16.5" stroke="#bbb"/><path d="M12.5 0.5V16.5" stroke="#bbb"/><path d="M18.5 0.5V16.5" stroke="#bbb"/><path d="M0.5 4.5H24.5" stroke="#bbb"/><path d="M0.5 8.5H24.5" stroke="#bbb"/><path d="M0.5 12.5H24.5" stroke="#bbb"/><path d="M10.6 6H13.4L14.5 14H21L12 23L3.5 14H9.5Z" fill="#5b82b8"/></svg>
<svg style="position:absolute;left:483px;top:32px" width="25" height="26" viewBox="0 0 25 26"><rect x="0.5" y="0.50" width="23" height="5.3" fill="#fafafa" stroke="#8a8a8a" stroke-width="1"/><circle cx="4.3" cy="3.15" r="1.5" fill="#f5a00a"/><path d="M7.5 3.15H20" stroke="#888" stroke-width="0.8" stroke-dasharray="2 1"/><rect x="0.5" y="6.55" width="23" height="5.3" fill="#fafafa" stroke="#8a8a8a" stroke-width="1"/><circle cx="4.3" cy="9.20" r="1.5" fill="#f5a00a"/><path d="M7.5 9.20H15" stroke="#888" stroke-width="0.8" stroke-dasharray="2 1"/><rect x="0.5" y="12.60" width="23" height="5.3" fill="#fafafa" stroke="#8a8a8a" stroke-width="1"/><circle cx="4.3" cy="15.25" r="1.5" fill="#f5a00a"/><path d="M7.5 15.25H20" stroke="#888" stroke-width="0.8" stroke-dasharray="2 1"/><rect x="0.5" y="18.65" width="23" height="5.3" fill="#fafafa" stroke="#8a8a8a" stroke-width="1"/><circle cx="4.3" cy="21.30" r="1.5" fill="#f5a00a"/><path d="M7.5 21.30H15" stroke="#888" stroke-width="0.8" stroke-dasharray="2 1"/></svg>
<svg style="position:absolute;left:0;top:0" width="1000" height="120" viewBox="0 0 1000 120"><path d="M547.5 33.7Q547.5 32.7 548.5 32.7H551.5L552.5 33.7H556Q557 33.7 557 34.7V38.7Q557 39.5 556 39.5H548.5Q547.5 39.5 547.5 38.7Z" fill="#fff" stroke="#6d7b96" stroke-width="1"/><rect x="548.5" y="36.0" width="7" height="2.8" fill="#dfe6f4"/><path d="M558.9 42.8Q558.9 41.8 559.9 41.8H562.9L563.9 42.8H567.4Q568.4 42.8 568.4 43.8V47.8Q568.4 48.599999999999994 567.4 48.599999999999994H559.9Q558.9 48.599999999999994 558.9 47.8Z" fill="#fff" stroke="#6d7b96" stroke-width="1"/><rect x="559.9" y="45.099999999999994" width="7" height="2.8" fill="#dfe6f4"/><path d="M558.9 51.8Q558.9 50.8 559.9 50.8H562.9L563.9 51.8H567.4Q568.4 51.8 568.4 52.8V56.8Q568.4 57.599999999999994 567.4 57.599999999999994H559.9Q558.9 57.599999999999994 558.9 56.8Z" fill="#fff" stroke="#6d7b96" stroke-width="1"/><rect x="559.9" y="54.099999999999994" width="7" height="2.8" fill="#dfe6f4"/><path d="M551.5 41V54.2H556.8M551.5 45.5H556.8" fill="none" stroke="#6d7b96" stroke-width="1"/></svg>
<svg style="position:absolute;left:0;top:0" width="1000" height="120" viewBox="0 0 1000 120"><path d="M616.9 31.7H630.5L637.3 38.5V57.2H616.9Z" fill="#f8f8f8" stroke="#777" stroke-width="1"/><path d="M630.5 31.7V38.5H637.3" fill="#fff" stroke="#bbb" stroke-width=".8"/><rect x="621.8" y="44.8" width="11.4" height="7.6" fill="#f0f0f0" stroke="#c4c4c4" stroke-width=".9"/><text x="618.2" y="42.8" text-anchor="middle" font-size="17.5" font-weight="700" fill="#5b82b8">A</text><path d="M625 37.5H628M625 39.5H633.5" stroke="#5b82b8" stroke-width="1"/></svg>
<svg style="position:absolute;left:0;top:0" width="1000" height="120" viewBox="0 0 1000 120"><rect x="694" y="39" width="15" height="6.8" fill="#5b82b8"/><path d="M695.5 40.2V44.6" stroke="#dce6f8" stroke-width="1"/><path d="M698.5 40.2V44.6" stroke="#dce6f8" stroke-width="1"/><path d="M701.5 40.2V44.6" stroke="#dce6f8" stroke-width="1"/><path d="M704.5 40.2V44.6" stroke="#dce6f8" stroke-width="1"/><path d="M707.5 40.2V44.6" stroke="#dce6f8" stroke-width="1"/></svg>
<svg style="position:absolute;left:0;top:0" width="1000" height="120" viewBox="0 0 1000 120"><path d="M780 47.3Q781.5 40 789.8 37.6" fill="none" stroke="#5b82b8" stroke-width="1.4" stroke-dasharray="1.4 1.6"/><path d="M783.5 43.3L789.3 47.5L792.7 43.2" fill="none" stroke="#3f5f90" stroke-width="1.5"/></svg>
<svg style="position:absolute;left:0;top:0" width="1000" height="120" viewBox="0 0 1000 120"><rect x="869.5" y="42.6" width="2.8" height="11.3" fill="#a3b6d9" stroke="#7692c4" stroke-width="1"/><rect x="874.6" y="36.6" width="2.8" height="17.3" fill="#a3b6d9" stroke="#7692c4" stroke-width="1"/><rect x="879.5" y="39.7" width="2.8" height="14.2" fill="#a3b6d9" stroke="#7692c4" stroke-width="1"/><rect x="884.6" y="37.6" width="2.8" height="16.3" fill="#a3b6d9" stroke="#7692c4" stroke-width="1"/></svg></body></html>
